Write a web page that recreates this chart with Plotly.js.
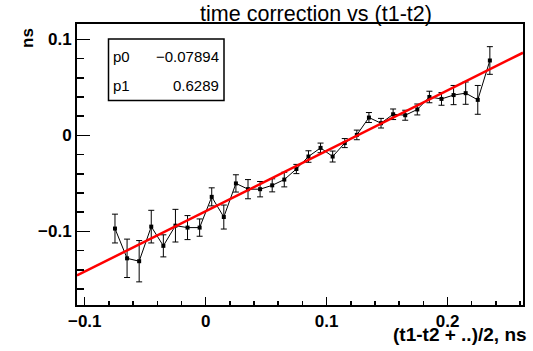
<!DOCTYPE html>
<html>
<head>
<meta charset="utf-8">
<script src="https://cdn.plot.ly/plotly-3.0.1.min.js"></script>
<style>html,body{margin:0;padding:0;background:#fff;}#chart{width:533px;height:351px;}</style>
</head>
<body>
<div id="chart"></div>
<script>
// Data (profile points with errors)
const xVals = [-0.075, -0.065, -0.055, -0.045, -0.035, -0.025, -0.015, -0.005,
               0.005, 0.015, 0.025, 0.035, 0.045, 0.055, 0.065, 0.075,
               0.085, 0.095, 0.105, 0.115, 0.125, 0.135, 0.145, 0.155,
               0.165, 0.175, 0.185, 0.195, 0.205, 0.215, 0.225, 0.235];
const yVals = [-0.097, -0.128, -0.131, -0.095, -0.115, -0.094, -0.096, -0.096,
               -0.064, -0.085, -0.050, -0.056, -0.056, -0.052, -0.046, -0.035,
               -0.022, -0.013, -0.022, -0.008, 0.0005, 0.0186, 0.0127, 0.022,
               0.021, 0.027, 0.040, 0.038, 0.042, 0.044, 0.037, 0.078];
const yErrs = [0.015, 0.020, 0.0215, 0.017, 0.0115, 0.017, 0.0125, 0.009,
               0.0094, 0.0125, 0.009, 0.010, 0.008, 0.0068, 0.0076, 0.0048,
               0.006, 0.005, 0.0057, 0.0047, 0.005, 0.0052, 0.005, 0.0055,
               0.0052, 0.0057, 0.006, 0.0066, 0.010, 0.0116, 0.015, 0.0144];
// Fit parameters (pol1) and fit range
const fitParams = {p0: -0.07894, p1: 0.6289};
const fitRange = [-0.1064, 0.2624];
const statNames = ["p0", "p1"];
const statValues = ["\u22120.07894", "0.6289"];

const fitY = fitRange.map(x => fitParams.p0 + fitParams.p1 * x);

const data = [
  {
    x: xVals, y: yVals, type: 'scatter', mode: 'lines+markers',
    line: {color: '#000', width: 1},
    marker: {symbol: 'square', size: 4, color: '#000'},
    error_y: {type: 'data', array: yErrs, visible: true, color: '#000', thickness: 1, width: 3},
    showlegend: false, hoverinfo: 'skip'
  },
  {
    x: fitRange, y: fitY, type: 'scatter', mode: 'lines',
    line: {color: '#ff0000', width: 2.5},
    showlegend: false, hoverinfo: 'skip'
  }
];

const W = 533, H = 351, L = 77, R = 10, T = 24, B = 46;
const pw = W - L - R, ph = H - T - B;
const px = v => (v - L) / pw;
const py = v => (H - B - v) / ph;

const font = 'Liberation Sans, Arial, Helvetica, sans-serif';

const annotations = [
  {text: '<b>(t1-t2 + ..)/2, ns</b>', xref: 'paper', yref: 'paper', x: px(529), y: py(334),
   xanchor: 'right', yanchor: 'middle', showarrow: false, font: {family: font, size: 19, color: '#000'}},
  {text: '<b>ns</b>', xref: 'paper', yref: 'paper', x: px(28), y: py(38), textangle: -90,
   xanchor: 'center', yanchor: 'middle', showarrow: false, font: {family: font, size: 17, color: '#000'}}
];
const rowY = [57, 86];
statNames.forEach((n, i) => {
  annotations.push({text: n, xref: 'paper', yref: 'paper', x: px(111), y: py(rowY[i]),
    xanchor: 'left', yanchor: 'middle', showarrow: false, font: {family: font, size: 15, color: '#000'}});
  annotations.push({text: statValues[i], xref: 'paper', yref: 'paper', x: px(221), y: py(rowY[i]),
    xanchor: 'right', yanchor: 'middle', showarrow: false, font: {family: font, size: 15, color: '#000'}});
});

const layout = {
  width: W, height: H,
  margin: {l: L, r: R, t: T, b: B, pad: 0},
  paper_bgcolor: '#fff', plot_bgcolor: '#fff',
  title: {text: 'time correction vs (t1-t2)', x: 316 / W, xanchor: 'center', y: 1 - 13 / H, yanchor: 'middle',
          font: {family: font, size: 21.5, color: '#000'}},
  xaxis: {
    range: fitRange, showgrid: false, zeroline: false,
    showline: true, linecolor: '#000', linewidth: 2, mirror: true,
    ticks: 'inside', ticklen: 8, tickwidth: 1.5, tickcolor: '#000',
    tick0: 0, dtick: 0.1, tickformat: '.1~f',
    minor: {ticks: 'inside', ticklen: 4, tickwidth: 1.5, tickcolor: '#000', dtick: 0.02, tick0: 0, showgrid: false},
    tickfont: {family: font, size: 17, color: '#000', weight: 'bold'}
  },
  yaxis: {
    range: [-0.1766, 0.116], showgrid: false, zeroline: false,
    showline: true, linecolor: '#000', linewidth: 2, mirror: true,
    ticks: 'inside', ticklen: 13, tickwidth: 1.5, tickcolor: '#000',
    tick0: 0, dtick: 0.1, tickformat: '.1~f', ticklabelstandoff: 0,
    minor: {ticks: 'inside', ticklen: 7, tickwidth: 1.5, tickcolor: '#000', dtick: 0.02, tick0: 0, showgrid: false},
    tickfont: {family: font, size: 17, color: '#000', weight: 'bold'}
  },
  shapes: [
    {type: 'rect', xref: 'paper', yref: 'paper', x0: px(108.5), x1: px(224), y0: py(100.5), y1: py(39),
     line: {color: '#000', width: 1.5}, fillcolor: '#fff', layer: 'above'}
  ],
  annotations: annotations
};

Plotly.newPlot('chart', data, layout, {staticPlot: true, displayModeBar: false});
</script>
</body>
</html>
